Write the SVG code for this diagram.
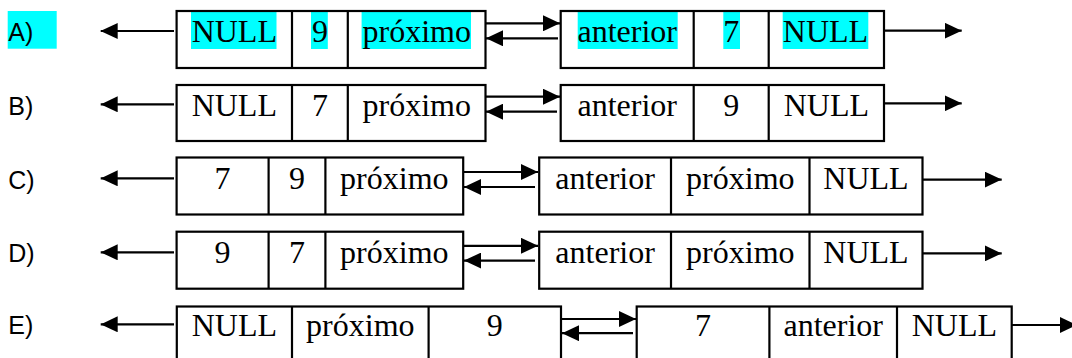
<svg xmlns="http://www.w3.org/2000/svg" width="1072" height="358" viewBox="0 0 1072 358">
<style>
.box{fill:none;stroke:#000;stroke-width:2.2}
.dv{stroke:#000;stroke-width:2.2}
.t{font-family:"Liberation Serif","Times New Roman",serif;font-size:32px;fill:#000;text-anchor:middle}
.lb{font-family:"Liberation Sans",Arial,sans-serif;font-size:25px;fill:#000}
.hl{fill:#00FFFF}
.ar{stroke:#000;stroke-width:2.2;fill:none;marker-end:url(#ah)}
</style>
<defs>
<marker id="ah" viewBox="0 0 17 16" refX="17" refY="8" markerWidth="17" markerHeight="16" markerUnits="userSpaceOnUse" orient="auto">
<path d="M0,0 L17,8 L0,16 z" fill="#000"/>
</marker>
</defs>
<rect width="1072" height="358" fill="#fff"/>

<g id="labels">
<rect class="hl" x="7.7" y="11" width="49" height="37.7"/>
<text class="lb" x="8.3" y="40.7">A)</text>
<text class="lb" x="8.3" y="115">B)</text>
<text class="lb" x="8.3" y="189.3">C)</text>
<text class="lb" x="8.3" y="262.3">D)</text>
<text class="lb" x="8.3" y="334.3">E)</text>
</g>

<g id="nodeA1">
<rect class="hl" x="191" y="12" width="85.5" height="37"/>
<rect class="hl" x="311" y="12" width="16.8" height="37"/>
<rect class="hl" x="361.6" y="12" width="109.4" height="37"/>
<rect class="box" x="176.6" y="11" width="308.9" height="57"/>
<line class="dv" x1="292" y1="11" x2="292" y2="68"/>
<line class="dv" x1="347.8" y1="11" x2="347.8" y2="68"/>
<text class="t" x="234.3" y="42">NULL</text>
<text class="t" x="319.9" y="42">9</text>
<text class="t" x="416.7" y="42">próximo</text>
</g>
<g id="nodeA2">
<rect class="hl" x="577.7" y="12" width="100" height="37"/>
<rect class="hl" x="723.3" y="12" width="16.7" height="37"/>
<rect class="hl" x="782.7" y="12" width="85.6" height="37"/>
<rect class="box" x="560.7" y="11" width="323.3" height="57"/>
<line class="dv" x1="693.7" y1="11" x2="693.7" y2="68"/>
<line class="dv" x1="768.7" y1="11" x2="768.7" y2="68"/>
<text class="t" x="627.2" y="42">anterior</text>
<text class="t" x="731.2" y="42">7</text>
<text class="t" x="825.5" y="42">NULL</text>
</g>

<g id="nodeB1">
<rect class="box" x="176.6" y="85" width="308.9" height="56"/>
<line class="dv" x1="292" y1="85" x2="292" y2="141"/>
<line class="dv" x1="347.8" y1="85" x2="347.8" y2="141"/>
<text class="t" x="234.3" y="116">NULL</text>
<text class="t" x="319.9" y="116">7</text>
<text class="t" x="416.7" y="116">próximo</text>
</g>
<g id="nodeB2">
<rect class="box" x="560.7" y="85" width="323.3" height="56"/>
<line class="dv" x1="693.7" y1="85" x2="693.7" y2="141"/>
<line class="dv" x1="768.7" y1="85" x2="768.7" y2="141"/>
<text class="t" x="627.2" y="116">anterior</text>
<text class="t" x="731.2" y="116">9</text>
<text class="t" x="826.4" y="116">NULL</text>
</g>

<g id="nodeC1">
<rect class="box" x="176.6" y="157.5" width="286.6" height="57"/>
<line class="dv" x1="268.6" y1="157.5" x2="268.6" y2="214.5"/>
<line class="dv" x1="325.4" y1="157.5" x2="325.4" y2="214.5"/>
<text class="t" x="222.6" y="189">7</text>
<text class="t" x="297" y="189">9</text>
<text class="t" x="394.3" y="189">próximo</text>
</g>
<g id="nodeC2">
<rect class="box" x="539.2" y="157.5" width="383.3" height="57"/>
<line class="dv" x1="671" y1="157.5" x2="671" y2="214.5"/>
<line class="dv" x1="809.5" y1="157.5" x2="809.5" y2="214.5"/>
<text class="t" x="605.1" y="189">anterior</text>
<text class="t" x="740.3" y="189">próximo</text>
<text class="t" x="866" y="189">NULL</text>
</g>

<g id="nodeD1">
<rect class="box" x="176.6" y="231.7" width="286.6" height="57"/>
<line class="dv" x1="268.6" y1="231.7" x2="268.6" y2="288.7"/>
<line class="dv" x1="325.4" y1="231.7" x2="325.4" y2="288.7"/>
<text class="t" x="222.6" y="262.5">9</text>
<text class="t" x="297" y="262.5">7</text>
<text class="t" x="394.3" y="262.5">próximo</text>
</g>
<g id="nodeD2">
<rect class="box" x="539.2" y="231.7" width="383.3" height="57"/>
<line class="dv" x1="671" y1="231.7" x2="671" y2="288.7"/>
<line class="dv" x1="809.5" y1="231.7" x2="809.5" y2="288.7"/>
<text class="t" x="605.1" y="262.5">anterior</text>
<text class="t" x="740.3" y="262.5">próximo</text>
<text class="t" x="866" y="262.5">NULL</text>
</g>

<g id="nodeE1">
<rect class="box" x="176.8" y="306.5" width="384.2" height="70"/>
<line class="dv" x1="292" y1="306.5" x2="292" y2="376"/>
<line class="dv" x1="428.6" y1="306.5" x2="428.6" y2="376"/>
<text class="t" x="234.4" y="336">NULL</text>
<text class="t" x="360.3" y="336">próximo</text>
<text class="t" x="494.8" y="336">9</text>
</g>
<g id="nodeE2">
<rect class="box" x="636.7" y="306.5" width="375" height="70"/>
<line class="dv" x1="769.4" y1="306.5" x2="769.4" y2="376"/>
<line class="dv" x1="897" y1="306.5" x2="897" y2="376"/>
<text class="t" x="703" y="336">7</text>
<text class="t" x="833.2" y="336">anterior</text>
<text class="t" x="954.4" y="336">NULL</text>
</g>

<g id="connectors">
<line class="ar" x1="174" y1="31" x2="100.7" y2="31"/>
<line class="ar" x1="485.5" y1="23.3" x2="560" y2="23.3"/>
<line class="ar" x1="558" y1="38.3" x2="486" y2="38.3"/>
<line class="ar" x1="884" y1="30.7" x2="961.7" y2="30.7"/>

<line class="ar" x1="174" y1="104.3" x2="100.7" y2="104.3"/>
<line class="ar" x1="485.5" y1="96.7" x2="560" y2="96.7"/>
<line class="ar" x1="557" y1="111.7" x2="486" y2="111.7"/>
<line class="ar" x1="884" y1="103.3" x2="961.7" y2="103.3"/>

<line class="ar" x1="174" y1="178.3" x2="100.7" y2="178.3"/>
<line class="ar" x1="463.2" y1="172" x2="538" y2="172"/>
<line class="ar" x1="535" y1="187" x2="464" y2="187"/>
<line class="ar" x1="922.5" y1="179.6" x2="1001.7" y2="179.6"/>

<line class="ar" x1="174" y1="252.3" x2="100.7" y2="252.3"/>
<line class="ar" x1="463.2" y1="245.8" x2="538" y2="245.8"/>
<line class="ar" x1="535" y1="260.6" x2="464" y2="260.6"/>
<line class="ar" x1="922.5" y1="253.4" x2="1001.7" y2="253.4"/>

<line class="ar" x1="174" y1="324.3" x2="100.7" y2="324.3"/>
<line class="ar" x1="561" y1="319" x2="636" y2="319"/>
<line class="ar" x1="633" y1="333.2" x2="562" y2="333.2"/>
<line class="ar" x1="1011.7" y1="325" x2="1077" y2="325"/>
</g>
</svg>
